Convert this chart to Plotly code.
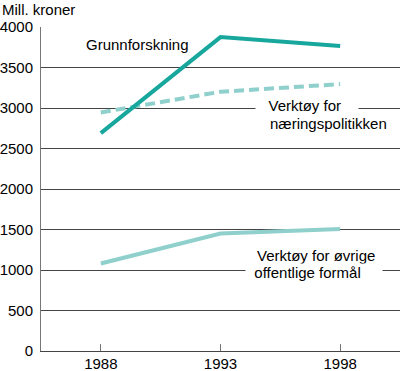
import plotly.graph_objects as go

years = [1988, 1993, 1998]
grunnforskning = [2690, 3875, 3765]
naeringspolitikk = [2945, 3200, 3295]
ovrige = [1080, 1450, 1505]
yticks = [0, 500, 1000, 1500, 2000, 2500, 3000, 3500, 4000]

DARK = "#17a79d"
LIGHT = "#8fd0cc"
FONT = "Liberation Sans, Arial, sans-serif"
NB = "\u00a0"

fig = go.Figure()
fig.add_trace(go.Scatter(x=years, y=ovrige, mode="lines",
                         line=dict(color=LIGHT, width=4)))
fig.add_trace(go.Scatter(x=years, y=naeringspolitikk, mode="lines",
                         line=dict(color=LIGHT, width=4, dash="10px,5px")))
fig.add_trace(go.Scatter(x=years, y=grunnforskning, mode="lines",
                         line=dict(color=DARK, width=4)))

ann_font = dict(family=FONT, size=15, color="#000000")
annotations = [
    dict(text="Mill. kroner", xref="paper", yref="paper", x=-41/359, y=1 + 17/324,
         xanchor="left", yanchor="middle", showarrow=False, font=ann_font),
    dict(text="Grunnforskning", xref="x", yref="y", x=1987.30, y=3778,
         xanchor="left", yanchor="middle", showarrow=False, font=ann_font),
    dict(text=NB*3 + "Verktøy for" + NB*4, xref="x", yref="y", x=1994.44, y=3031,
         xanchor="left", yanchor="middle", showarrow=False, font=ann_font,
         bgcolor="white", borderpad=0),
    dict(text="næringspolitikken", xref="x", yref="y", x=1994.99, y=2810,
         xanchor="left", yanchor="middle", showarrow=False, font=ann_font),
    dict(text="Verktøy for øvrige", xref="x", yref="y", x=1994.44, y=1185,
         xanchor="left", yanchor="middle", showarrow=False, font=ann_font),
    dict(text=NB*2 + "offentlige formål" + NB*5, xref="x", yref="y", x=1994.02, y=975,
         xanchor="left", yanchor="middle", showarrow=False, font=ann_font,
         bgcolor="white", borderpad=0),
]

fig.update_layout(
    width=400, height=371,
    margin=dict(l=41, r=0, t=27, b=20, autoexpand=False),
    plot_bgcolor="white", paper_bgcolor="white",
    showlegend=False,
    font=dict(family=FONT, size=15, color="#000000"),
    annotations=annotations,
    xaxis=dict(
        range=[1985.5, 2000.5], tickmode="array", tickvals=years,
        ticktext=[str(y) for y in years],
        showgrid=False, zeroline=False, automargin=False,
        showline=True, linecolor="#444444", linewidth=1,
        ticks="inside", ticklen=7, tickcolor="#777777", tickwidth=1,
        ticklabelstandoff=-1,
        tickfont=dict(family=FONT, size=15, color="#000000"),
        fixedrange=True,
    ),
    yaxis=dict(
        range=[0, 4000], tickmode="array", tickvals=yticks,
        ticktext=[str(v) for v in yticks],
        showgrid=True, gridcolor="#444444", gridwidth=1,
        zeroline=False, automargin=False,
        showline=True, linecolor="#777777", linewidth=1,
        ticks="", ticklabelstandoff=4,
        tickfont=dict(family=FONT, size=15, color="#000000"),
        fixedrange=True,
    ),
)

fig.write_html(
    "out.html",
    config={"displayModeBar": False},
    post_script="document.body.style.margin='0';document.body.style.overflow='hidden';",
)
